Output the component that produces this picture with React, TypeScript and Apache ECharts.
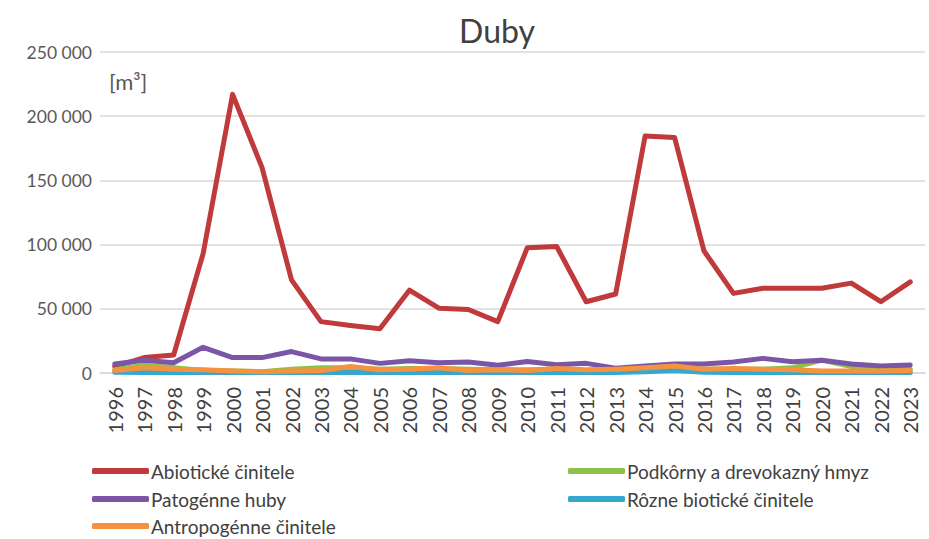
import React, { useEffect, useRef } from "react";
import * as echarts from "echarts";

const years = ["1996","1997","1998","1999","2000","2001","2002","2003","2004","2005","2006","2007","2008","2009","2010","2011","2012","2013","2014","2015","2016","2017","2018","2019","2020","2021","2022","2023"];

const abioticke = [5000, 12000, 14000, 93000, 217000, 160000, 72500, 40000, 37000, 34500, 64500, 50500, 49500, 40000, 97500, 98500, 55500, 61500, 184500, 183500, 95000, 62000, 66000, 66000, 66000, 70000, 55500, 71000];
const podkorny = [2500, 6000, 4000, 2000, 1500, 1000, 3000, 4000, 4000, 3000, 3500, 3500, 3000, 2500, 2500, 3000, 1500, 2000, 3000, 4000, 3000, 3000, 3000, 4000, 10000, 5000, 3000, 3000];
const patogenne = [7000, 10000, 8000, 20000, 12000, 12000, 16700, 11000, 11000, 7500, 9600, 8000, 8500, 6000, 9000, 6500, 7500, 3800, 5400, 7000, 7000, 8500, 11400, 8800, 10000, 7000, 5400, 6200];
const rozne = [500, 300, 300, 300, 300, 300, 300, 300, 300, 300, 300, 300, 300, 300, 300, 300, 300, 300, 1000, 2000, 500, 300, 300, 300, 300, 300, 300, 300];
const antropogenne = [2000, 4000, 3000, 2500, 1500, 1000, 1500, 2000, 5000, 2500, 3000, 4000, 2000, 2500, 2000, 3500, 2500, 3000, 4000, 5500, 3000, 3500, 3000, 2500, 1500, 1500, 1500, 2000];

const yTicks = { min: 0, max: 250000, interval: 50000 };

const FONT = "Lato";

const colors: Record<string, string> = {
  "Abiotické činitele": "#C0393B",
  "Podkôrny a drevokazný hmyz": "#8DC14B",
  "Rôzne biotické činitele": "#35A8D0",
  "Patogénne huby": "#7B55A6",
  "Antropogénne činitele": "#F5923E",
};

export default function App() {
  const ref = useRef<HTMLDivElement>(null);
  useEffect(() => {
    if (!ref.current) return;
    const chart = echarts.init(ref.current, undefined, { renderer: "svg" });
    const mk = (name: string, data: number[]) => ({
      name,
      type: "line",
      data,
      symbol: "none",
      lineStyle: { width: 5, color: colors[name], cap: "round", join: "round" },
      itemStyle: { color: colors[name] },
      z: 2,
    });
    const lg = (name: string, left: number, cy: number) => ({
      left,
      top: cy - 11,
      orient: "horizontal",
      padding: 0,
      itemWidth: 57,
      itemHeight: 6,
      icon: "roundRect",
      data: [name],
      textStyle: { fontSize: 19, lineHeight: 22, color: "#404040", fontFamily: FONT, padding: [0, 0, 0, -3] },
    });
    chart.setOption({
      animation: false,
      backgroundColor: "#ffffff",
      textStyle: { fontFamily: FONT },
      title: {
        text: "Duby",
        left: 497,
        top: 14,
        textAlign: "center",
        padding: 0,
        textStyle: { fontFamily: FONT, fontSize: 32, fontWeight: "normal", color: "#404040" },
      },
      grid: { left: 100, right: 4, top: 52, bottom: 166, containLabel: false },
      xAxis: {
        type: "category",
        data: years,
        boundaryGap: true,
        axisLine: { show: true, lineStyle: { color: "#d9d9d9", width: 1.5 } },
        axisTick: { show: false },
        axisLabel: { rotate: 90, fontSize: 20, color: "#404040", fontFamily: FONT, margin: 14, interval: 0 },
      },
      yAxis: {
        type: "value",
        min: yTicks.min,
        max: yTicks.max,
        interval: yTicks.interval,
        axisLine: { show: false },
        axisTick: { show: false },
        splitLine: { lineStyle: { color: "#d9d9d9", width: 1.5 } },
        axisLabel: {
          fontSize: 17.5,
          color: "#595959",
          fontFamily: FONT,
          margin: 8,
          formatter: (v: number) => (v === 0 ? "0" : String(v).replace(/\B(?=(\d{3})+(?!\d))/g, " ")),
        },
      },
      legend: [
        lg("Abiotické činitele", 92, 471),
        lg("Patogénne huby", 92, 499),
        lg("Antropogénne činitele", 92, 526),
        lg("Podkôrny a drevokazný hmyz", 568, 471),
        lg("Rôzne biotické činitele", 568, 499),
      ],
      graphic: [
        {
          type: "text",
          left: 109,
          top: 70,
          style: { text: "[m³]", fontSize: 22, fill: "#595959", fontFamily: FONT },
        },
      ],
      series: [
        mk("Abiotické činitele", abioticke),
        mk("Podkôrny a drevokazný hmyz", podkorny),
        mk("Rôzne biotické činitele", rozne),
        mk("Patogénne huby", patogenne),
        mk("Antropogénne činitele", antropogenne),
      ],
    });
    return () => chart.dispose();
  }, []);
  return <div ref={ref} style={{ position: "absolute", left: 0, top: 0, width: 929, height: 539 }} />;
}
